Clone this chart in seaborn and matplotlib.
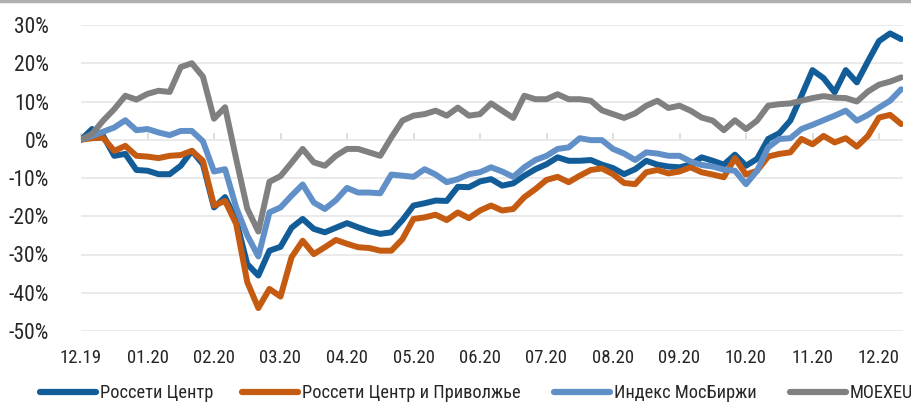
import numpy as np
import pandas as pd
import matplotlib
matplotlib.use("Agg")
import matplotlib.pyplot as plt
import seaborn as sns
from matplotlib.lines import Line2D
from matplotlib.ticker import FixedLocator, FixedFormatter

# ---------------- data (percent change since 12.19, ~every 1/6 month) ----------------
series_names = ["Россети Центр", "Россети Центр и Приволжье", "Индекс МосБиржи", "MOEXEU"]

rosseti_center = [
    0, 2.8, 1, -4.2, -3.7, -7.9, -8.1, -9, -9, -6.8, -2.9, -6.4, -17.7, -15, -21, -32.5, -35.5, -29, -28,
    -23, -20.7, -23.3, -24.2, -23, -21.8, -22.9, -23.9, -24.6, -24.2, -21, -17.2, -16.6, -15.9, -16, -12.3, -12.4, -10.9, -10.3,
    -12, -11.4, -9.4, -7.7, -6.4, -4.6, -5.5, -5.5, -5.3, -6.5, -7.4, -9, -7.7, -5.5, -6.5, -7, -7.2, -6.5,
    -4.6, -5.5, -6.5, -3.9, -6.8, -5, 0.2, 1.7, 5, 11.5, 18.2, 16.1, 12.4, 18.2, 15, 20.5, 25.8, 27.8, 26.3,
]
rosseti_center_volga = [
    0, 0.4, 0.5, -2.9, -1.6, -4.2, -4.4, -4.8, -4.2, -4, -2.9, -5.5, -17.2, -16, -22, -37.2, -44, -39, -41,
    -30.7, -26.4, -29.9, -28.1, -26.2, -27.2, -28.1, -28.3, -29, -29, -26, -20.7, -20.3, -19.6, -21, -19, -20.5, -18.5, -17.2,
    -18.5, -18.1, -15, -12.9, -10.5, -9.7, -11.1, -9.4, -7.9, -7.5, -9, -11.3, -11.6, -8.5, -7.9, -8.8, -8.3, -7.2,
    -8.5, -9.1, -9.8, -4.8, -9.1, -8.1, -4.4, -3.7, -3.3, 0.2, -1.2, 1, -0.7, 0.4, -1.8, 1, 5.8, 6.5, 4.1,
]
moex_index = [
    0, 1, 2.1, 3.2, 5.1, 2.5, 2.8, 1.9, 1.2, 2.3, 2.3, -0.4, -8.3, -7.7, -17.7, -25, -30.5, -19, -17.7,
    -14.6, -11.7, -16.4, -18.1, -15.8, -12.6, -13.8, -13.8, -14, -9.1, -9.4, -9.7, -7.7, -9.1, -11.1, -10.3, -9, -8.5, -7.2,
    -8.3, -9.7, -7.2, -5.3, -4.2, -2.4, -2, 0.4, -0.1, -0.1, -2.4, -3.6, -5.3, -3.3, -3.6, -4.2, -4.2, -5.7,
    -6.6, -7, -7.8, -8.1, -11.6, -8.1, -2, 0.2, 0.4, 2.8, 3.9, 5.1, 6.3, 7.6, 5, 6.5, 8.4, 10.2, 13.2,
]
moexeu = [
    0, 1.5, 5, 8, 11.5, 10.5, 12, 12.8, 12.5, 19, 20, 16.5, 5.5, 8.5, -5, -18, -24, -11, -9.5,
    -6, -2.4, -5.9, -6.8, -4.2, -2.4, -2.4, -3.3, -4.2, 0.6, 5, 6.3, 6.7, 7.6, 6.3, 8.4, 6.3, 6.7, 9.5,
    7.6, 5.7, 11.5, 10.6, 10.6, 11.9, 10.6, 10.6, 10.2, 7.7, 6.7, 5.7, 6.9, 8.9, 10.2, 8.3, 8.9, 7.6,
    5.8, 5, 2.5, 5.1, 2.8, 5, 8.9, 9.3, 9.5, 10.2, 10.9, 11.4, 11, 10.9, 10, 12.6, 14.4, 15.2, 16.3,
]

month_labels = ["12.19", "01.20", "02.20", "03.20", "04.20", "05.20", "06.20",
                "07.20", "08.20", "09.20", "10.20", "11.20", "12.20"]
y_ticks = [-50, -40, -30, -20, -10, 0, 10, 20, 30]
y_labels = ["-50%", "-40%", "-30%", "-20%", "-10%", "0%", "10%", "20%", "30%"]

colors = ["#125d98", "#c55a11", "#6190c8", "#808080"]

# ---------------- build table ----------------
t = np.arange(len(rosseti_center)) / 6.0  # time in months since 12.19
df = pd.concat([
    pd.DataFrame({"t": t, "v": vals, "s": name})
    for name, vals in zip(series_names, [rosseti_center, rosseti_center_volga, moex_index, moexeu])
], ignore_index=True)

# ---------------- plot ----------------
sns.set_theme(style="white")
plt.rcParams["font.family"] = ["Roboto Condensed", "DejaVu Sans"]

W, H = 911, 403
fig = plt.figure(figsize=(W / 100, H / 100), dpi=100)
ax = fig.add_axes([81 / W, 1 - 331 / H, (903 - 81) / W, (331 - 25) / H])

sns.lineplot(data=df, x="t", y="v", hue="s", hue_order=series_names,
             palette=colors, linewidth=4.3, legend=False, ax=ax, sort=False)
for ln in ax.lines:
    ln.set_solid_joinstyle("round")
    ln.set_solid_capstyle("round")

ax.set_xlim(0, (903 - 81) / 66.5)
ax.set_ylim(-50, 30)

ax.yaxis.set_major_locator(FixedLocator(y_ticks))
ax.yaxis.set_major_formatter(FixedFormatter(y_labels))
ax.xaxis.set_major_locator(FixedLocator(list(range(len(month_labels)))))
ax.xaxis.set_major_formatter(FixedFormatter(month_labels))

ax.grid(axis="y", color="#e8e8e8", linewidth=1.3)
ax.grid(axis="x", visible=False)
for sp in ax.spines.values():
    sp.set_visible(False)
ax.tick_params(axis="y", length=0, pad=23, labelsize=15.5, labelcolor="#262626")
ax.tick_params(axis="x", length=0, pad=13, labelsize=13.5, labelcolor="#262626")
ax.set_xlabel("")
ax.set_ylabel("")

# axis line at zero with small tick marks
sec = ax.secondary_xaxis(50 / 80)
sec.xaxis.set_major_locator(FixedLocator(list(range(len(month_labels)))))
sec.set_xticklabels([])
sec.tick_params(axis="x", direction="out", length=5, color="#d9d9d9", width=1.2)
sec.spines["bottom"].set_color("#d9d9d9")
sec.spines["bottom"].set_linewidth(1.3)
for k in ["top", "left", "right"]:
    sec.spines[k].set_visible(False)
ax.set_axisbelow(True)

# top border line of the page
fig.add_artist(Line2D([0, 1], [1 - 1 / H, 1 - 1 / H], transform=fig.transFigure,
                      color="#b0b0b0", linewidth=2.5))

# legend, one entry per slot
legend_x = [40, 242, 554, 790]
for ln, name, lx in zip(ax.lines, series_names, legend_x):
    handle = Line2D([], [], color=ln.get_color(), linewidth=4.5, solid_capstyle="round")
    fig.legend(handles=[handle], labels=[name], loc="center left",
               bbox_to_anchor=(lx / W, 1 - 393 / H), frameon=False,
               fontsize=13.2, handlelength=3.05, handletextpad=0.2,
               borderpad=0, borderaxespad=0, labelcolor="#262626")

fig.savefig("out.png", dpi=100)
